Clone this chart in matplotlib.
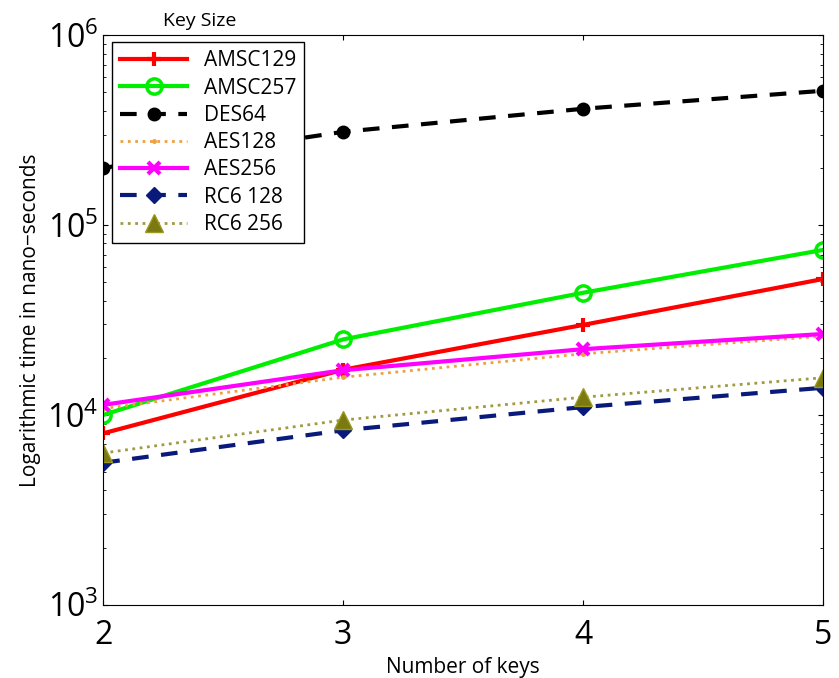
import matplotlib.pyplot as plt
import numpy as np

plt.rcParams['font.family'] = ['Open Sans', 'DejaVu Sans']

keys = [2, 3, 4, 5]
amsc129 = [8.0e3, 1.73e4, 2.98e4, 5.2e4]
amsc257 = [1.0e4, 2.5e4, 4.4e4, 7.4e4]
des64 = [2.0e5, 3.1e5, 4.1e5, 5.1e5]
aes128 = [1.08e4, 1.58e4, 2.1e4, 2.6e4]
aes256 = [1.13e4, 1.72e4, 2.22e4, 2.67e4]
rc6_128 = [5.6e3, 8.3e3, 1.1e4, 1.39e4]
rc6_256 = [6.3e3, 9.4e3, 1.24e4, 1.57e4]

fig = plt.figure(figsize=(8.39, 6.78), dpi=100)
ax = fig.add_axes([0.123, 0.108, 0.858, 0.840])

ax.plot(keys, amsc129, color='#ff0000', lw=3, marker='+', ms=10, mew=3, label='AMSC129')
ax.plot(keys, amsc257, color='#00ee00', lw=3, marker='o', ms=11, mfc='none', mew=2.5, label='AMSC257')
ax.plot(keys, des64, color='black', lw=3, ls=(0, (4, 3)), marker='o', ms=9, label='DES64')
ax.plot(keys, aes128, color='#f0a040', lw=2, ls=':', marker='.', ms=5, label='AES128')
ax.plot(keys, aes256, color='#ff00ff', lw=3, marker='x', ms=8, mew=3, label='AES256')
ax.plot(keys, rc6_128, color='#0a1a7a', lw=3, ls=(0, (4, 3)), marker='D', ms=8, mfc='#0a1a7a', label='RC6 128')
ax.plot(keys, rc6_256, color='#a09a40', lw=2, ls=':', marker='^', ms=13, mfc='#7a7a10', mec='#9a9a20', label='RC6 256')

ax.set_yscale('log')
ax.set_ylim(1e3, 1e6)
ax.set_xlim(2, 5)
ax.set_xticks(keys)
ax.tick_params(axis='both', which='both', direction='in', top=True, right=True)
ax.tick_params(axis='x', which='minor', top=False, bottom=False)
ax.tick_params(axis='both', labelsize=23)
ax.tick_params(axis='x', pad=10)
ax.set_xlabel('Number of keys', fontsize=15)
ax.set_ylabel('Logarithmic time in nano\u2212seconds', fontsize=15)

leg = ax.legend(loc='upper left', bbox_to_anchor=(0.012, 0.988), fontsize=15,
                handlelength=3.2, fancybox=False, edgecolor='black',
                framealpha=1, borderpad=0.4, labelspacing=0.3, borderaxespad=0)
leg.get_frame().set_linewidth(1)
fig.text(0.238, 0.969, 'Key Size', fontsize=14, ha='center', va='center')

fig.savefig('out.png', dpi=100)
